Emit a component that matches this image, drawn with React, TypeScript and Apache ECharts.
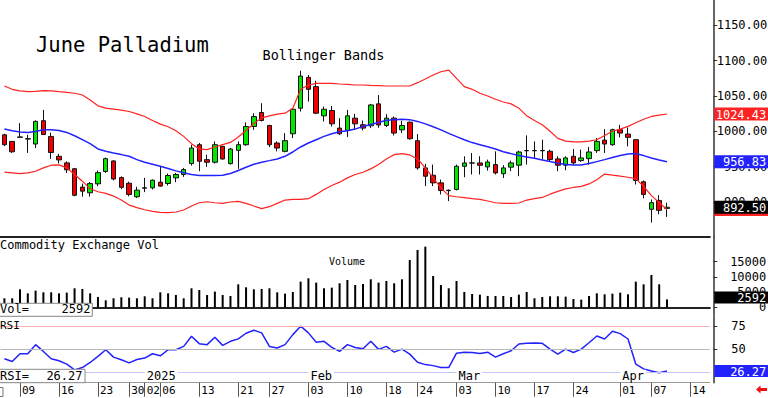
import React, { useEffect, useRef } from "react";
import * as echarts from "echarts";

// ---------- data ----------
const dates = [
  "2024-12-05","2024-12-06","2024-12-09","2024-12-10","2024-12-11","2024-12-12","2024-12-13","2024-12-16","2024-12-17","2024-12-18",
  "2024-12-19","2024-12-20","2024-12-23","2024-12-24","2024-12-26","2024-12-27","2024-12-30","2024-12-31",
  "2025-01-02","2025-01-03","2025-01-06","2025-01-07","2025-01-08","2025-01-09","2025-01-10","2025-01-13","2025-01-14","2025-01-15",
  "2025-01-16","2025-01-17","2025-01-21","2025-01-22","2025-01-23","2025-01-24","2025-01-27","2025-01-28","2025-01-29","2025-01-30","2025-01-31",
  "2025-02-03","2025-02-04","2025-02-05","2025-02-06","2025-02-07","2025-02-10","2025-02-11","2025-02-12","2025-02-13","2025-02-14",
  "2025-02-18","2025-02-19","2025-02-20","2025-02-21","2025-02-24","2025-02-25","2025-02-26","2025-02-27","2025-02-28",
  "2025-03-03","2025-03-04","2025-03-05","2025-03-06","2025-03-07","2025-03-10","2025-03-11","2025-03-12","2025-03-13","2025-03-14",
  "2025-03-17","2025-03-18","2025-03-19","2025-03-20","2025-03-21","2025-03-24","2025-03-25","2025-03-26","2025-03-27","2025-03-28","2025-03-31",
  "2025-04-01","2025-04-02","2025-04-03","2025-04-04","2025-04-07","2025-04-08","2025-04-09","2025-04-10","2025-04-11","2025-04-14","2025-04-15","2025-04-16",
];

const opens = [
  995, 985.7, 992, 989.5, 982, 1015, 992.7, 964.6, 955.3, 947,
  921, 913, 925.7, 943.2, 958, 934.5, 926.5, 907.4, 919.5, 920,
  928, 926.1, 934.1, 938.8, 954.3, 981, 959.9, 956.2, 978.7, 954.3,
  973, 981, 1006.8, 1026.6, 1008.2, 983.4, 971.6, 996.5, 1032.7, 1076.3,
  1063.2, 1021.9, 1029.4, 1004.5, 1001.2, 1018.6, 1009.2, 1007.8, 1038.8, 1008.2,
  1018.6, 1002.1, 1012.9, 986.7, 948.2, 937.8, 927, 916, 917.7, 950.5,
  955, 955.2, 949.6, 952.9, 940, 949.2, 952, 972.4, 972.4, 972.4,
  971.7, 960.9, 952, 964.6, 958.5, 961.3, 972.6, 987.5, 981, 1002.2,
  996, 988.1, 928.5, 889.6, 902.2, 890.8,
];
const closes = [
  981, 971, 991.5, 989, 1014, 995.5, 970, 959.5, 945.5, 909.5,
  915.3, 926, 941.5, 961.3, 932.5, 920.7, 910.6, 916.7, 920, 930.8,
  922.4, 937.4, 938.8, 945.8, 976.3, 957.6, 956.2, 981, 960.8, 974.9,
  981, 1006.8, 1020.9, 1015.3, 981, 976.3, 986.7, 1031.2, 1078.2, 1059.4,
  1025.6, 1031.2, 1010.6, 996.5, 1021.9, 1010.6, 1004.5, 1037.3, 1009, 1018.6,
  997.5, 1008.2, 989.5, 948.2, 936.4, 927, 916.3, 916.5, 950.5, 955.2,
  955.3, 951.9, 956.6, 941.1, 948.2, 955.3, 970.7, 972.8, 972.8, 972.8,
  960, 952, 962.3, 955.3, 962.3, 970.7, 985.7, 982, 1002.2, 997.5,
  991.4, 930.4, 910.7, 899, 888.1, 892.5,
];
const lows = [
  979, 969.3, 991, 969.3, 976.3, 995, 961, 954.5, 941, 908,
  907.5, 907.5, 922.3, 941.2, 930.5, 918.2, 908, 905.5, 913.9, 917.7,
  921.4, 923.3, 928, 935.5, 951.5, 943.5, 949.6, 954.3, 959.9, 952.9,
  946.8, 979.6, 1002.1, 1013.9, 977.7, 971.6, 970.2, 990.4, 1028, 1042,
  1024.2, 1013.9, 1006.8, 995.1, 991.8, 1002.1, 1001.2, 1004.5, 1005, 1005.9,
  994.2, 997.5, 988.1, 945.8, 922.4, 922.4, 910.6, 901.2, 916.3, 935,
  938.8, 938.8, 944.4, 938.8, 934, 943.5, 936.5, 952.9, 961.3, 960,
  957.6, 943.5, 944.9, 952.9, 956.7, 952.9, 969.3, 969.3, 979.5, 991.4,
  978.7, 924.7, 905, 870.8, 882.5, 878.8,
];
const highs = [
  996.5, 986, 1011.6, 995, 1015.5, 1030.3, 998, 968, 957.5, 948.2,
  926, 928.2, 944.6, 962.8, 959.2, 936.2, 928.6, 921.5, 934.1, 931.8,
  949.6, 940.2, 941.1, 948.2, 981, 983.4, 966.9, 985.7, 979.6, 976.3,
  985.7, 1012.5, 1025.6, 1039.7, 1009.2, 985.7, 997.5, 1032.7, 1085.7, 1079.6,
  1071.6, 1035, 1035.9, 1018.6, 1030.3, 1024.7, 1015.3, 1038.8, 1051.4, 1024.2,
  1020.9, 1014.8, 1013.9, 996, 953.8, 952.9, 931.7, 917.7, 952.9, 964.6,
  969.3, 964.6, 959.9, 971.6, 952, 958.5, 972.6, 994.2, 985.7, 988.1,
  974, 964.6, 964.6, 975, 974, 977.8, 990.4, 1003, 1003.6, 1009.2,
  1005.5, 988.5, 930.4, 903.6, 909.7, 898.9,
];

const upperBand = [
  1064.1, 1059.4, 1057.1, 1056.1, 1056.6, 1057.5, 1057.1, 1056.1, 1055.2, 1053.8,
  1051.4, 1044.4, 1036, 1032.7, 1031.3, 1029.9, 1028, 1024.7, 1020.9, 1015.3,
  1010.2, 1006.4, 1000.8, 992.8, 982.5, 975, 974, 977.8, 981.1, 984.3,
  991.9, 1001.2, 1011, 1019, 1021.9, 1024.2, 1025.6, 1032.7, 1059.4, 1065.5,
  1067.9, 1067.9, 1067.9, 1066.9, 1066.5, 1065.5, 1065.5, 1065, 1064.6, 1064.1,
  1064.1, 1064.1, 1064.1, 1068.8, 1074, 1079.6, 1084.3, 1086.6, 1074.9, 1063.2,
  1059.4, 1053.8, 1050, 1045.3, 1041.5, 1038.8, 1032.7, 1021.9, 1015.3, 1009.2,
  1000, 990, 986, 985, 985, 986, 988, 994, 1000, 1003,
  1007, 1012, 1017, 1021, 1023, 1024.43,
];
const middleBand = [
  1003.1, 1000.8, 998.9, 998.4, 999.8, 1002.2, 1002.2, 1001.2, 998.4, 993.7,
  988.1, 982.5, 975, 971.7, 969.3, 967, 964.6, 959.9, 956.2, 953.4,
  950.6, 947.3, 944, 941.2, 938.8, 937.4, 937.4, 937.4, 937.9, 940.2,
  944.5, 949.1, 953.3, 956.2, 958.5, 960.9, 964.6, 970.7, 977.8, 983.4,
  988.1, 992.8, 996.5, 999.4, 1000.8, 1003.1, 1006.9, 1009.7, 1012.5, 1015.5,
  1016.5, 1017, 1016.5, 1014, 1010.5, 1006.5, 1002, 997, 992.5, 988,
  984, 981, 978, 975, 971, 968.4, 965.6, 963.7, 961.8, 959.5,
  957.1, 954.8, 952.9, 952.4, 952.4, 954.3, 957.1, 959.9, 962.8, 965.6,
  967.9, 968.4, 965.6, 962.3, 959.5, 956.83,
];
const lowerBand = [
  942.1, 941.2, 940.2, 941.2, 943.5, 948.2, 952, 952.4, 948.2, 938.8,
  929.4, 918.6, 914.4, 912.1, 908.3, 902.7, 895.6, 891.9, 889, 886.7,
  885.3, 884.9, 885.8, 888.6, 894.2, 898.9, 900.3, 898.9, 898, 899.9,
  900.8, 898, 894.2, 890.5, 893.3, 898, 902.7, 903.6, 903.6, 904.6,
  910.7, 917.7, 923.3, 928, 934.1, 938.8, 942.1, 946.8, 952.9, 960.9,
  967, 968.4, 966.5, 960.9, 948.2, 934.1, 920, 909, 907.4, 906,
  904.6, 903.6, 901.3, 898.9, 898, 898, 898.5, 902.7, 904.6, 906.4,
  911, 915, 918.5, 920.5, 922, 925.5, 931.5, 939.5, 937.9, 936.5,
  935, 933, 922, 909, 899, 889.4,
];

const volume = [
  2960, 2960, 5920, 4600, 5480, 4930, 4930, 4600, 4820, 6250,
  6030, 4600, 3400, 2300, 2960, 3290, 3180, 2960, 3620, 2960,
  4930, 4600, 4050, 2960, 6250, 5700, 4050, 5150, 4050, 3730,
  7560, 6580, 5920, 6030, 6250, 4930, 4490, 5040, 8440, 9540,
  8110, 6250, 6470, 7890, 8990, 7340, 7670, 9210, 8110, 8660,
  7890, 9210, 15560, 18850, 19950, 10300, 7340, 6250, 8660, 5040,
  4380, 4160, 3730, 3730, 3730, 3400, 4160, 5040, 2960, 3400,
  3620, 3620, 3510, 2740, 2520, 3730, 4600, 4270, 4490, 4820,
  4270, 8440, 7560, 10630, 7560, 2592,
];

const rsi = [
  39.5, 36.5, 44.9, 44.9, 54.7, 47.4, 39.5, 37.3, 33.7, 27.5,
  30, 35.5, 42, 49.2, 41.3, 38.4, 35.1, 38.7, 40.2, 44.9,
  42.7, 49.2, 49.2, 52.8, 63.7, 55.8, 54.7, 62.6, 53.9, 58.3,
  60.9, 67, 70.2, 67.4, 52.8, 51.1, 54.7, 65.5, 74.6, 67.4,
  57.2, 58.3, 51.7, 47.4, 54.7, 51.7, 50.3, 58.3, 49.6, 52.8,
  46.6, 49.9, 44.5, 35.8, 33.2, 32.1, 30, 30, 45.5, 46.6,
  46.2, 45.1, 46.6, 41.3, 44.9, 48.1, 55.4, 56.1, 56.5, 56.1,
  49.9, 44.5, 49.9, 46.2, 49.9, 56.8, 64, 60.8, 69.1, 66.6,
  60.8, 33.6, 28.5, 26.3, 24.5, 26.27,
];

const tickDates = [
  "2024-12-09","2024-12-16","2024-12-23","2024-12-30","2025-01-02","2025-01-06","2025-01-13","2025-01-21","2025-01-27",
  "2025-02-03","2025-02-10","2025-02-18","2025-02-24","2025-03-03","2025-03-10","2025-03-17","2025-03-24",
  "2025-04-01","2025-04-07","2025-04-14",
];
const monthDates = ["2025-01-02", "2025-02-03", "2025-03-03", "2025-04-01"];
const monthLabels = ["2025", "Feb", "Mar", "Apr"];

const priceTicks = [900, 950, 1000, 1050, 1100, 1150];
const volumeTicks = [0, 5000, 10000, 15000];
const rsiTicks = [50, 75];
const rsiLevels = [75, 50, 25];

const titleText = "June Palladium";
const bandsText = "Bollinger Bands";
const volPanelText = "Commodity Exchange Vol";
const volSeriesText = "Volume";
const rsiPanelText = "RSI";

// ---------- layout / style ----------
const MONO = "DejaVu Sans Mono";
const GL = 0.51;
const GW = 709.35;
const PRICE_RANGE = [850.4, 1185.8];
const VOL_RANGE = [-2862, 23125];
const RSI_RANGE = [13.7, 84.5];
const RED = "#ff2222";
const BLUE = "#2222ff";

export default function App() {
  const ref = useRef<HTMLDivElement>(null);

  useEffect(() => {
    if (!ref.current) return;
    const chart = echarts.init(ref.current, null, { renderer: "svg" });

    const n = closes.length;
    const last = n - 1;
    const candles = closes.map((c, i) => [opens[i], c, lows[i], highs[i]]);
    const tickSet = new Set(tickDates);
    const monthSet = new Set(monthDates);

    const priceRect = { left: GL, top: 0, width: GW, height: 237 };
    const volRect = { left: GL, top: 237, width: GW, height: 79 };
    const rsiRect = { left: GL, top: 317, width: GW, height: 65.7 };
    const gridRects = [priceRect, volRect, rsiRect, priceRect, volRect, rsiRect, priceRect];
    const grids = gridRects.map((g) => ({
      ...g,
      containLabel: false,
      outerBoundsMode: "none",
      show: false,
    }));

    const xBase = (gi: number) => ({
      type: "category",
      gridIndex: gi,
      data: dates,
      boundaryGap: true,
      axisLabel: { show: false },
      axisTick: { show: false },
      axisLine: { show: false },
      splitLine: { show: false },
    });

    const yBase = (gi: number, range: number[]) => ({
      type: "value",
      gridIndex: gi,
      position: "right",
      offset: 3.4,
      min: range[0],
      max: range[1],
      splitLine: { show: false },
      axisLine: { show: false },
      axisTick: { show: false },
      axisLabel: { show: false },
    });

    const boxToken = (bg: string, fg: string, h: number) => ({
      backgroundColor: bg,
      color: fg,
      width: 52,
      height: h,
      align: "right",
      padding: [1, 2, 0, 0],
      fontFamily: MONO,
      fontSize: 12,
    });

    const priceBoxes = [
      { v: upperBand[last], tok: "u" },
      { v: middleBand[last], tok: "m" },
      { v: lowerBand[last], tok: "l" },
    ];

    const option: any = {
      animation: false,
      backgroundColor: "#ffffff",
      grid: grids,
      xAxis: [
        { ...xBase(0), axisLine: { show: true, lineStyle: { color: "#222", width: 2 } } },
        { ...xBase(1), axisLine: { show: true, lineStyle: { color: "#222", width: 2 } } },
        {
          ...xBase(2),
          axisLine: { show: true, lineStyle: { color: "#9a9a9a", width: 1 } },
          axisTick: {
            show: true,
            alignWithLabel: true,
            interval: (_i: number, v: string) => tickSet.has(v),
            length: 14,
            lineStyle: { color: "#555" },
          },
          axisLabel: {
            show: true,
            interval: (_i: number, v: string) => tickSet.has(v),
            formatter: (v: string) => v.slice(8),
            align: "left",
            margin: 2,
            padding: [0, 0, 0, 2],
            fontFamily: MONO,
            fontSize: 11,
            color: "#000",
          },
        },
        { ...xBase(3), show: false },
        { ...xBase(4), show: false },
        {
          ...xBase(5),
          z: 10,
          axisLabel: {
            show: true,
            inside: true,
            interval: (_i: number, v: string) => monthSet.has(v),
            formatter: (v: string) => monthLabels[monthDates.indexOf(v)] ?? "",
            align: "left",
            margin: 1,
            padding: [0, 2, 0, 2],
            backgroundColor: "#ffffff",
            fontFamily: MONO,
            fontSize: 12,
            color: "#000",
          },
        },
        { ...xBase(6), show: false },
      ],
      yAxis: [
        {
          ...yBase(0, PRICE_RANGE),
          axisLine: { show: true, lineStyle: { color: "#333", width: 1.5 } },
          axisTick: { show: true, customValues: priceTicks, length: 4, lineStyle: { color: "#333" } },
          axisLabel: {
            show: true,
            customValues: priceTicks,
            formatter: (v: number) => v.toFixed(2),
            align: "right",
            margin: 54,
            fontFamily: MONO,
            fontSize: 12,
            color: "#000",
          },
        },
        {
          ...yBase(1, VOL_RANGE),
          axisLine: { show: true, lineStyle: { color: "#333", width: 1.5 } },
          axisTick: { show: true, customValues: volumeTicks, length: 4, lineStyle: { color: "#333" } },
          axisLabel: {
            show: true,
            customValues: volumeTicks,
            formatter: (v: number) => String(v),
            align: "right",
            margin: 53,
            padding: [0, 0, 5, 0],
            fontFamily: MONO,
            fontSize: 12,
            color: "#000",
          },
        },
        {
          ...yBase(2, RSI_RANGE),
          axisLine: { show: true, lineStyle: { color: "#333", width: 1.5 } },
          axisTick: { show: true, customValues: rsiTicks, length: 4, lineStyle: { color: "#333" } },
          axisLabel: {
            show: true,
            customValues: rsiTicks,
            formatter: (v: number) => String(v),
            align: "left",
            margin: 18,
            fontFamily: MONO,
            fontSize: 12,
            color: "#000",
          },
        },
        {
          ...yBase(3, PRICE_RANGE),
          z: 5,
          axisLabel: {
            show: true,
            customValues: priceBoxes.map((b) => b.v),
            formatter: (v: number) => {
              const b = priceBoxes.find((p) => Math.abs(p.v - v) < 1e-6);
              if (!b) return "";
              return b.tok === "l" ? `{l| }` : `{${b.tok}|${v.toFixed(2)}}`;
            },
            align: "left",
            margin: 1,
            rich: {
              u: boxToken(RED, "#fff", 12),
              m: boxToken(BLUE, "#fff", 12),
              l: boxToken(RED, RED, 12),
            },
          },
        },
        {
          ...yBase(4, VOL_RANGE),
          z: 5,
          axisLabel: {
            show: true,
            customValues: [volume[last]],
            formatter: (v: number) => `{k|${v}}`,
            align: "left",
            margin: 1,
            padding: [0, 0, 4, 0],
            rich: { k: boxToken("#000000", "#fff", 11) },
          },
        },
        {
          ...yBase(5, RSI_RANGE),
          z: 5,
          axisLabel: {
            show: true,
            customValues: [rsi[last]],
            formatter: (v: number) => `{r|${v.toFixed(2)}}`,
            align: "left",
            margin: 1,
            rich: { r: boxToken(BLUE, "#fff", 11) },
          },
        },
        {
          ...yBase(6, PRICE_RANGE),
          z: 7,
          axisLabel: {
            show: true,
            customValues: [closes[last]],
            formatter: (v: number) => `{c|${v.toFixed(2)}}`,
            align: "left",
            margin: 1,
            rich: { c: boxToken("#000000", "#fff", 12) },
          },
        },
      ],
      series: [
        {
          type: "candlestick",
          xAxisIndex: 0,
          yAxisIndex: 0,
          data: candles,
          barWidth: 5,
          silent: true,
          itemStyle: {
            color: "#00e800",
            color0: "#ee0000",
            borderColor: "#111",
            borderColor0: "#111",
            borderWidth: 1,
          },
        },
        {
          type: "line", xAxisIndex: 0, yAxisIndex: 0, data: upperBand, symbol: "none", silent: true,
          lineStyle: { color: RED, width: 1.2 },
        },
        {
          type: "line", xAxisIndex: 0, yAxisIndex: 0, data: middleBand, symbol: "none", silent: true,
          lineStyle: { color: BLUE, width: 1.5 },
        },
        {
          type: "line", xAxisIndex: 0, yAxisIndex: 0, data: lowerBand, symbol: "none", silent: true,
          lineStyle: { color: RED, width: 1.2 },
        },
        {
          type: "bar", xAxisIndex: 1, yAxisIndex: 1, data: volume, barWidth: 2, silent: true,
          itemStyle: { color: "#000" },
        },
        {
          type: "line", xAxisIndex: 2, yAxisIndex: 2, data: rsi, symbol: "none", silent: true,
          lineStyle: { color: BLUE, width: 1.5 },
          z: 3,
          markLine: {
            silent: true,
            symbol: "none",
            label: { show: false },
            data: rsiLevels.map((lv, i) => ({
              yAxis: lv,
              lineStyle: { color: ["#ffb0b0", "#b8b8b8", "#c4c4ff"][i], width: 1, type: "solid" },
            })),
          },
        },
      ],
      graphic: {
        elements: [
          {
            type: "text", x: 36, y: 44.5, z: 100,
            style: { text: titleText, font: `20.5px "${MONO}"`, fill: "#000", verticalAlign: "middle" },
          },
          {
            type: "text", x: 262.5, y: 55.3, z: 100,
            style: { text: bandsText, font: `13.5px "${MONO}"`, fill: "#000", verticalAlign: "middle" },
          },
          {
            type: "text", x: 0, y: 245, z: 100,
            style: { text: volPanelText, font: `12px "${MONO}"`, fill: "#000", verticalAlign: "middle" },
          },
          {
            type: "text", x: 329, y: 261.5, z: 100,
            style: { text: volSeriesText, font: `10px "${MONO}"`, fill: "#000", verticalAlign: "middle" },
          },
          {
            type: "text", x: 0, y: 325.5, z: 100,
            style: { text: rsiPanelText, font: `11px "${MONO}"`, fill: "#000", verticalAlign: "middle" },
          },
          {
            type: "rect", z: 100,
            shape: { x: -1, y: 303.3, width: 93.3, height: 13 },
            style: { fill: "#fff", stroke: "#888", lineWidth: 1 },
          },
          {
            type: "text", x: 0, y: 309.3, z: 101,
            style: { text: "Vol=", font: `12px "${MONO}"`, fill: "#000", verticalAlign: "middle" },
          },
          {
            type: "text", x: 90.5, y: 309.3, z: 101,
            style: { text: String(volume[last]), font: `12px "${MONO}"`, fill: "#000", align: "right", verticalAlign: "middle" },
          },
          {
            type: "rect", z: 100,
            shape: { x: -1, y: 369.3, width: 86, height: 13.4 },
            style: { fill: "#fff", stroke: "#888", lineWidth: 1 },
          },
          {
            type: "text", x: 0, y: 376.3, z: 101,
            style: { text: "RSI=", font: `12px "${MONO}"`, fill: "#000", verticalAlign: "middle" },
          },
          {
            type: "text", x: 82.5, y: 376.3, z: 101,
            style: { text: rsi[last].toFixed(2), font: `12px "${MONO}"`, fill: "#000", align: "right", verticalAlign: "middle" },
          },
          {
            type: "rect", z: 100,
            shape: { x: -5, y: 387.5, width: 8, height: 9 },
            style: { fill: "#fff", stroke: "#777", lineWidth: 1 },
          },
          {
            type: "polygon", z: 100,
            shape: { points: [[756, 389.5], [760.5, 385.5], [760.5, 388], [767, 388], [767, 391], [760.5, 391], [760.5, 393.5]] },
            style: { fill: "#ee1111" },
          },
        ],
      },
    };

    chart.setOption(option);
    return () => chart.dispose();
  }, []);

  return (
    <div
      ref={ref}
      style={{ position: "fixed", left: 0, top: 0, width: 768, height: 398, background: "#fff" }}
    />
  );
}
